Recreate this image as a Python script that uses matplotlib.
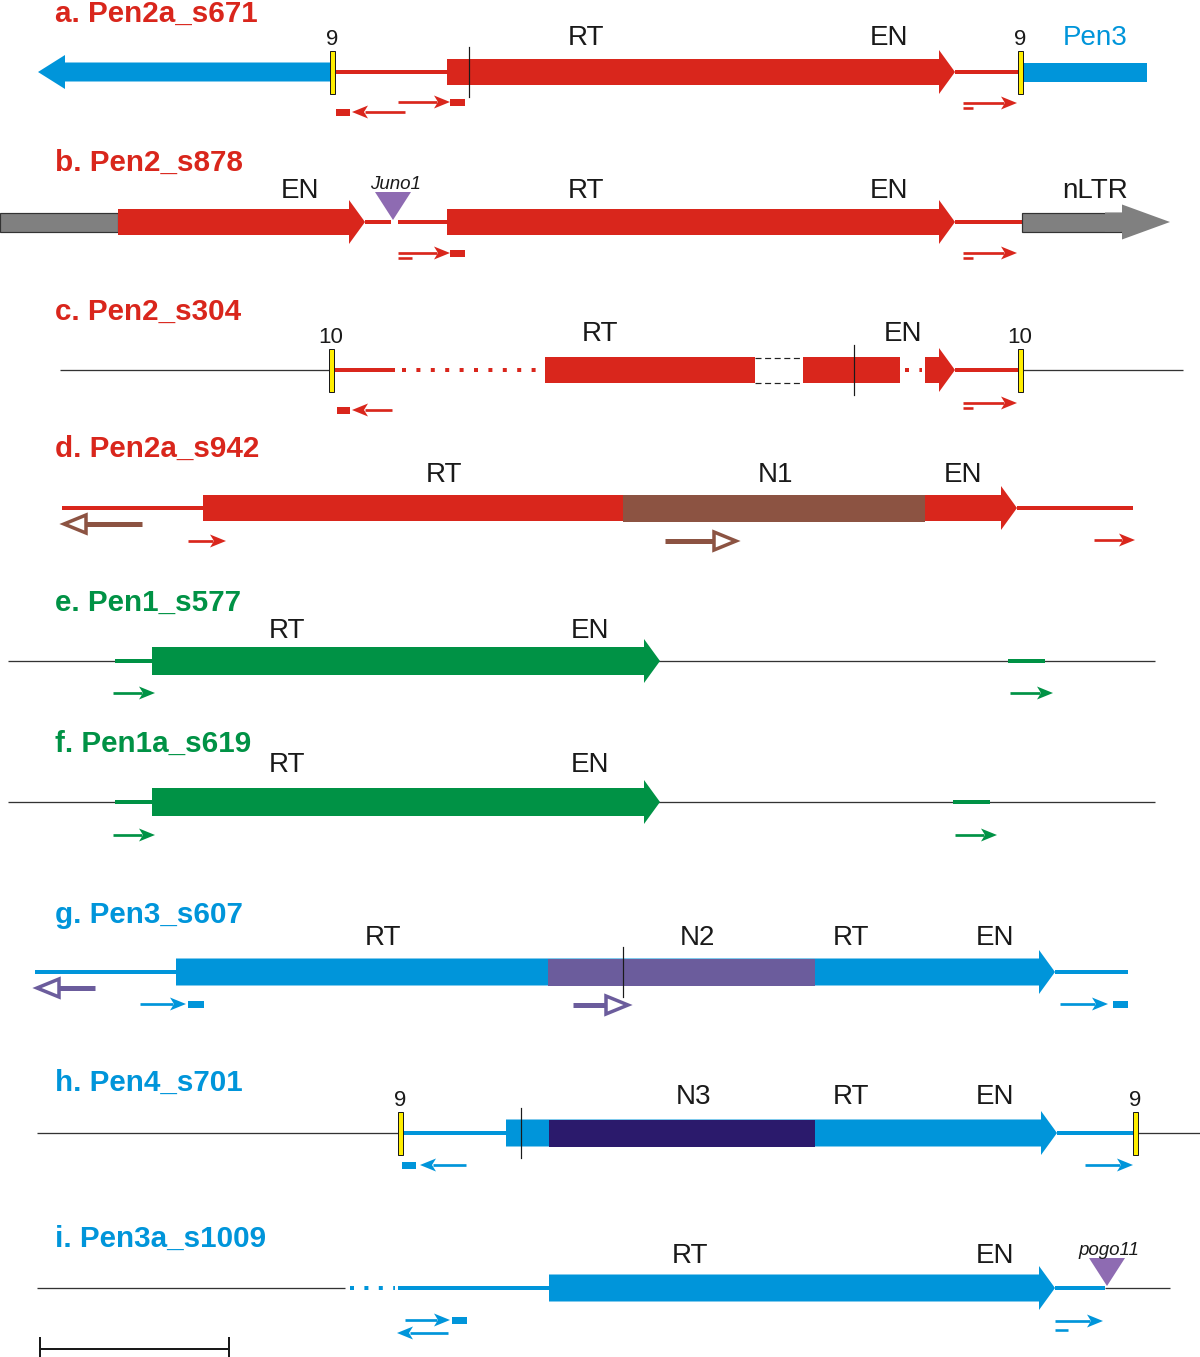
import matplotlib
matplotlib.use("Agg")
import matplotlib.pyplot as plt
from matplotlib.patches import Polygon, Rectangle

# ---------------- data (schematic coordinates, px along the 1200-wide axis) -------------
row_ids = ["a", "b", "c", "d", "e", "f", "g", "h", "i"]
row_titles = ["a. Pen2a_s671", "b. Pen2_s878", "c. Pen2_s304", "d. Pen2a_s942",
              "e. Pen1_s577", "f. Pen1a_s619", "g. Pen3_s607", "h. Pen4_s701",
              "i. Pen3a_s1009"]
row_title_colors = ["red", "red", "red", "red", "green", "green", "blue", "blue", "blue"]
row_center = [72, 222, 370, 508, 661, 802, 972, 1133, 1288]
row_title_base = [22, 171, 320, 457, 611, 752, 923, 1091, 1247]
row_label_base = [45, 198, 341, 482, 638, 772, 945, 1104, 1263]

# structural parts: (kind, x0, x1, colour)
a_parts = [("larrow_s", 38, 332, "blue"), ("line", 332, 447, "red"), ("arrow", 447, 955, "red"),
           ("vline", 469, 469, "black"), ("line", 955, 1020, "red"), ("box_s", 1020, 1147, "blue"),
           ("tsd", 332, 332, "9"), ("tsd", 1020, 1020, "9")]
b_parts = [("gbox", 0, 118, "gray"), ("arrow", 118, 365, "red"), ("line", 365, 391, "red"),
           ("line", 398, 447, "red"), ("arrow", 447, 955, "red"), ("line", 955, 1022, "red"),
           ("garrow", 1022, 1170, "gray"), ("ins", 393, 393, "Juno1")]
c_parts = [("host", 60, 330, "black"), ("line", 333, 395, "red"), ("dots", 402, 540, "red"),
           ("box", 545, 755, "red"), ("dashbox", 755, 803, "black"), ("box", 803, 900, "red"),
           ("vline", 854, 854, "black"), ("dots", 905, 922, "red"), ("arrow", 925, 955, "red"),
           ("line", 955, 1018, "red"), ("host", 1022, 1183, "black"),
           ("tsd", 331, 331, "10"), ("tsd", 1020, 1020, "10")]
d_parts = [("line", 62, 203, "red"), ("arrow", 203, 1017, "red"), ("box", 623, 925, "brown"),
           ("line", 1017, 1133, "red")]
e_parts = [("host", 8, 1155, "black"), ("line", 115, 152, "green"), ("arrow", 152, 660, "green"),
           ("line", 1008, 1045, "green")]
f_parts = [("host", 8, 1155, "black"), ("line", 115, 152, "green"), ("arrow", 152, 660, "green"),
           ("line", 953, 990, "green")]
g_parts = [("line", 35, 176, "blue"), ("arrow", 176, 1055, "blue"), ("box", 548, 815, "purple"),
           ("vline", 623, 623, "black"), ("line", 1055, 1128, "blue")]
h_parts = [("host", 37, 400, "black"), ("line", 402, 506, "blue"), ("arrow", 506, 1057, "blue"),
           ("box", 549, 815, "navy"), ("vline", 521, 521, "black"), ("line", 1057, 1133, "blue"),
           ("host", 1137, 1200, "black"), ("tsd", 400, 400, "9"), ("tsd", 1135, 1135, "9")]
i_parts = [("host", 37, 345, "black"), ("dots", 350, 395, "blue"), ("line", 398, 549, "blue"),
           ("arrow", 549, 1055, "blue"), ("line", 1055, 1105, "blue"), ("host", 1105, 1170, "black"),
           ("ins", 1107, 1107, "pogo11")]

# domain labels: (x, text, colour)
a_labels = [(586, "RT", "black"), (889, "EN", "black"), (1095, "Pen3", "blue")]
b_labels = [(300, "EN", "black"), (586, "RT", "black"), (889, "EN", "black"), (1095, "nLTR", "black")]
c_labels = [(600, "RT", "black"), (903, "EN", "black")]
d_labels = [(444, "RT", "black"), (775, "N1", "black"), (963, "EN", "black")]
e_labels = [(287, "RT", "black"), (590, "EN", "black")]
f_labels = [(287, "RT", "black"), (590, "EN", "black")]
g_labels = [(383, "RT", "black"), (697, "N2", "black"), (851, "RT", "black"), (995, "EN", "black")]
h_labels = [(693, "N3", "black"), (851, "RT", "black"), (995, "EN", "black")]
i_labels = [(690, "RT", "black"), (995, "EN", "black")]

# primers / probes: (kind, x_from, x_to, y, colour)
a_primers = [("rect", 336, 350, 112, "red"), ("arr", 405, 352, 112, "red"),
             ("arr", 398, 450, 102, "red"), ("rect", 450, 465, 102, "red"),
             ("dash", 963, 973, 108, "red"), ("arr", 963, 1017, 103, "red")]
b_primers = [("dash", 398, 412, 258, "red"), ("arr", 398, 450, 253, "red"),
             ("rect", 450, 465, 253, "red"), ("dash", 963, 973, 258, "red"),
             ("arr", 963, 1017, 253, "red")]
c_primers = [("rect", 337, 350, 410, "red"), ("arr", 392, 352, 410, "red"),
             ("dash", 963, 973, 408, "red"), ("arr", 963, 1017, 403, "red")]
d_primers = [("hollow", 142, 62, 524, "brown"), ("arr", 188, 226, 541, "red"),
             ("hollow", 665, 738, 541, "brown"), ("arr", 1094, 1135, 540, "red")]
e_primers = [("arr", 113, 155, 693, "green"), ("arr", 1010, 1053, 693, "green")]
f_primers = [("arr", 113, 155, 835, "green"), ("arr", 955, 997, 835, "green")]
g_primers = [("hollow", 95, 35, 988, "purple"), ("arr", 140, 186, 1004, "blue"),
             ("rect", 188, 204, 1004, "blue"), ("hollow", 573, 630, 1005, "purple"),
             ("arr", 1060, 1108, 1004, "blue"), ("rect", 1113, 1128, 1004, "blue")]
h_primers = [("rect", 402, 416, 1165, "blue"), ("arr", 466, 420, 1165, "blue"),
             ("arr", 1085, 1133, 1165, "blue")]
i_primers = [("arr", 405, 450, 1320, "blue"), ("rect", 452, 467, 1320, "blue"),
             ("arr", 448, 397, 1333, "blue"), ("arr", 1055, 1103, 1321, "blue"),
             ("dash", 1055, 1068, 1330, "blue")]

scale_bar = (40, 229, 1349)

# ---------------- styling -------------
COL = {"red": "#d9261c", "blue": "#0095da", "green": "#009245", "brown": "#8c5342",
       "purple": "#6b5c9c", "navy": "#2b1a6c", "gray": "#808080", "ins": "#8e6bb2",
       "black": "#1a1a1a", "yellow": "#ffee00"}
FONT = "Liberation Sans"
PX = 0.72  # points per pixel at dpi 100

W, H = 1200, 1357
fig = plt.figure(figsize=(W / 100, H / 100), dpi=100)
ax = fig.add_axes([0, 0, 1, 1])
ax.set_xlim(0, W)
ax.set_ylim(H, 0)
ax.axis("off")

BLOCK_H = {"red": 26, "green": 28, "blue": 27}


def arrow_poly(x0, x1, y, h, hh, hl, direction="r"):
    if direction == "r":
        return [(x0, y - h / 2), (x1 - hl, y - h / 2), (x1 - hl, y - hh / 2), (x1, y),
                (x1 - hl, y + hh / 2), (x1 - hl, y + h / 2), (x0, y + h / 2)]
    return [(x1, y - h / 2), (x0 + hl, y - h / 2), (x0 + hl, y - hh / 2), (x0, y),
            (x0 + hl, y + hh / 2), (x0 + hl, y + h / 2), (x1, y + h / 2)]


def draw_part(p, y):
    kind, x0, x1, c = p
    if kind == "host":
        ax.plot([x0, x1], [y, y], color="#333333", lw=1.3 * PX, zorder=1, solid_capstyle="butt")
    elif kind == "line":
        ax.plot([x0, x1], [y, y], color=COL[c], lw=4 * PX, zorder=2, solid_capstyle="butt")
    elif kind == "dots":
        ax.plot([x0, x1], [y, y], color=COL[c], lw=4 * PX, zorder=2,
                linestyle=(0, (1, 2.6)), dash_capstyle="butt")
    elif kind == "box":
        h = BLOCK_H.get(c, 27)
        ax.add_patch(Rectangle((x0, y - h / 2), x1 - x0, h, fc=COL[c], ec="none", zorder=4))
    elif kind == "box_s":
        ax.add_patch(Rectangle((x0, y - 9.5), x1 - x0, 19, fc=COL[c], ec="none", zorder=3))
    elif kind == "arrow":
        h = BLOCK_H.get(c, 26)
        ax.add_patch(Polygon(arrow_poly(x0, x1, y, h, 44, 16), closed=True,
                             fc=COL[c], ec="none", zorder=3))
    elif kind == "larrow_s":
        ax.add_patch(Polygon(arrow_poly(x0, x1, y, 19, 34, 27, "l"), closed=True,
                             fc=COL[c], ec="none", zorder=3))
    elif kind == "gbox":
        ax.add_patch(Rectangle((x0, y - 9.5), x1 - x0, 19, fc=COL[c], ec="#333333",
                               lw=1.2 * PX, zorder=3))
    elif kind == "garrow":
        ax.add_patch(Rectangle((x0, y - 9.5), (x1 - 48) - x0, 19, fc=COL[c], ec="#333333",
                               lw=1.2 * PX, zorder=3))
        ax.add_patch(Polygon([(x1 - 65, y - 9.5), (x1 - 48, y - 9.5), (x1 - 48, y - 17.5), (x1, y),
                              (x1 - 48, y + 17.5), (x1 - 48, y + 9.5), (x1 - 65, y + 9.5)],
                             closed=True, fc=COL[c], ec="none", zorder=4))
    elif kind == "dashbox":
        for yy in (y - 12.5, y + 12.5):
            ax.plot([x0, x1], [yy, yy], color="#222222", lw=1.2 * PX, zorder=3,
                    linestyle=(0, (5, 3)))
    elif kind == "vline":
        ax.plot([x0, x0], [y - 25, y + 25], color="#1a1a1a", lw=1.2 * PX, zorder=6)
    elif kind == "tsd":
        ax.add_patch(Rectangle((x0 - 2.5, y - 21.5), 5, 43, fc=COL["yellow"], ec="#1a1a1a",
                               lw=1.0 * PX, zorder=7))
        ax.text(x0, y - 27, c, ha="center", va="baseline", fontsize=16, family=FONT,
                color="#1a1a1a", zorder=8)
    elif kind == "ins":
        ax.add_patch(Polygon([(x0 - 18, y - 30), (x0 + 18, y - 30), (x0, y - 2)], closed=True,
                             fc=COL["ins"], ec="none", zorder=7))
        ax.text(x0 + 2, y - 33, c, ha="center", va="baseline", fontsize=13.5, family=FONT,
                style="italic", color="#1a1a1a", zorder=8)


def draw_primer(p):
    kind, xa, xb, y, c = p
    col = COL[c]
    if kind == "rect":
        ax.add_patch(Rectangle((min(xa, xb), y - 3.5), abs(xb - xa), 7, fc=col, ec="none", zorder=5))
    elif kind == "dash":
        ax.plot([xa, xb], [y, y], color=col, lw=2.6 * PX, zorder=5, solid_capstyle="butt")
    elif kind == "arr":
        d = 1 if xb > xa else -1
        hl, hw = 16, 13
        ax.plot([xa, xb - d * hl + d * 3], [y, y], color=col, lw=2.7 * PX, zorder=5,
                solid_capstyle="butt")
        ax.add_patch(Polygon([(xb - d * hl, y - hw / 2), (xb, y), (xb - d * hl, y + hw / 2),
                              (xb - d * (hl - 4), y)], closed=True, fc=col, ec="none", zorder=5))
    elif kind == "hollow":
        d = 1 if xb > xa else -1
        hl, hw = 24, 18
        ax.plot([xa, xb - d * hl + d * 2], [y, y], color=col, lw=5 * PX, zorder=5,
                solid_capstyle="butt")
        ax.add_patch(Polygon([(xb - d * hl, y - hw / 2), (xb - d * 2, y), (xb - d * hl, y + hw / 2)],
                             closed=True, fc="white", ec=col, lw=3.5 * PX, joinstyle="miter",
                             zorder=6))


all_parts = [a_parts, b_parts, c_parts, d_parts, e_parts, f_parts, g_parts, h_parts, i_parts]
all_labels = [a_labels, b_labels, c_labels, d_labels, e_labels, f_labels, g_labels, h_labels, i_labels]
all_primers = [a_primers, b_primers, c_primers, d_primers, e_primers, f_primers, g_primers,
               h_primers, i_primers]

for k in range(len(row_ids)):
    y = row_center[k]
    ax.text(55, row_title_base[k], row_titles[k], ha="left", va="baseline", fontsize=21.3,
            weight="bold", family=FONT, color=COL[row_title_colors[k]])
    for p in all_parts[k]:
        draw_part(p, y)
    for x, s, c in all_labels[k]:
        ax.text(x, row_label_base[k], s, ha="center", va="baseline", fontsize=20, family=FONT,
                color=COL[c] if c != "black" else "#1a1a1a", zorder=8)
    for p in all_primers[k]:
        draw_primer(p)

# scale bar
sx0, sx1, sy = scale_bar
ax.plot([sx0, sx1], [sy, sy], color="#1a1a1a", lw=2 * PX)
for sx in (sx0, sx1):
    ax.plot([sx, sx], [sy - 11, sy + 8], color="#1a1a1a", lw=2 * PX)

fig.savefig("out.png", dpi=100)
